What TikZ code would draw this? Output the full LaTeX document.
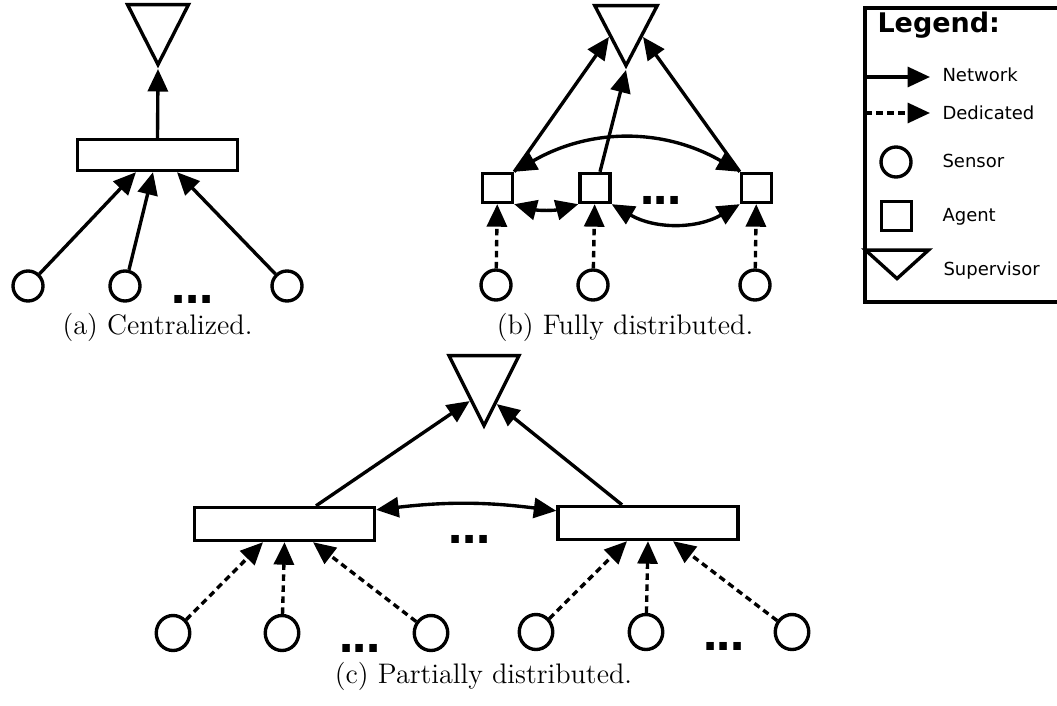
\documentclass[tikz,border=0pt]{standalone}
\usepackage{fontspec}
\setsansfont{DejaVu Sans}
\usetikzlibrary{shapes.geometric,arrows.meta,calc}

\tikzset{
  sensor/.style={draw, circle, line width=1.35pt, minimum size=12pt, inner sep=0pt},
  sensorc/.style={draw, ellipse, line width=1.35pt, minimum width=13.4pt, minimum height=14pt, inner sep=0pt},
  agent/.style={draw, rectangle, line width=1.35pt, minimum width=12pt, minimum height=11.6pt, inner sep=0pt},
  cluster/.style={draw, rectangle, line width=1.35pt, inner sep=0pt},
  supervisor/.style={draw, isosceles triangle, isosceles triangle stretches, shape border rotate=270,
    line width=1.35pt, inner sep=0pt, anchor=apex},
  net/.style={-{Triangle[length=9pt,width=8pt]}, line width=1.35pt},
  ded/.style={net, dash pattern=on 2.6pt off 1.8pt},
  twoway/.style={{Triangle[length=9pt,width=8pt]}-{Triangle[length=9pt,width=8pt]}, line width=1.35pt},
  etc/.style={font=\sffamily\bfseries\fontsize{17}{17}\selectfont, inner sep=0pt, anchor=base},
  caption/.style={font=\fontsize{11.3}{13}\selectfont, inner sep=0pt, anchor=base},
  legtext/.style={font=\sffamily\fontsize{7.2}{8}\selectfont, inner sep=0pt, anchor=base west},
  legtitle/.style={font=\sffamily\bfseries\fontsize{10.8}{12}\selectfont, inner sep=0pt, anchor=base west}
}
\newcommand{\etcdots}{.\kern-1pt.\kern-1pt.}

\begin{document}
\begin{tikzpicture}[x=0.4pt, y=-0.4pt]
    \useasboundingbox (0,0) rectangle (1057,705);

    % (a) centralized
    \draw(158,69) node[supervisor, minimum width=24.4pt, minimum height=24pt] (supa) {};
    \draw(157.5,155) node[cluster, minimum width=64pt, minimum height=12.4pt] (ra) {};
    \draw(28,286) node[sensor] (sa1) {};
    \draw(125,286) node[sensor] (sa2) {};
    \draw(287,286) node[sensor] (sa3) {};
    \draw(192.5,303) node[etc] (da) {\etcdots};
    \draw(157.5,334) node[caption] (capa) {(a) Centralized.};

    \draw[net] (ra.north) -- (supa.apex);
    \draw[net] (sa1) -- ($(ra.south)+(-21.5,0)$);
    \draw[net] (sa2) -- ($(ra.south)+(-4.5,0)$);
    \draw[net] (sa3) -- ($(ra.south)+(19.5,0)$);

    % (b) fully distributed
    \draw(626,70) node[supervisor, minimum width=25pt, minimum height=24pt] (supb) {};
    \draw(497.5,188) node[agent] (qb1) {};
    \draw(595,188) node[agent] (qb2) {};
    \draw(756.5,188) node[agent] (qb3) {};
    \draw(496,285) node[sensor] (sb1) {};
    \draw(593,285) node[sensor] (sb2) {};
    \draw(755,285) node[sensor] (sb3) {};
    \draw(661,205) node[etc] (db) {\etcdots};
    \draw(625,334) node[caption] (capb) {(b) Fully distributed.};

    \draw[net] (qb1.north east) -- ($(supb.apex)!0.5!(supb.right corner)$);
    \draw[net] ($(qb2.north)+(5,0)$) -- (supb.apex);
    \draw[net] (qb3.north west) -- ($(supb.apex)!0.5!(supb.left corner)$);
    \draw[twoway] (qb1.north east) to[bend left=30] (qb3.north west);
    \draw[twoway] (qb1.south east) to[bend right=15] (qb2.south west);
    \draw[twoway] (qb2.south east) to[bend right=30] (qb3.south west);
    \draw[ded] (sb1) -- (qb1);
    \draw[ded] (sb2) -- (qb2);
    \draw[ded] (sb3) -- (qb3);

    % (c) partially distributed
    \draw(484,430) node[supervisor, minimum width=28pt, minimum height=28pt] (supc) {};
    \draw(284.5,524) node[cluster, minimum width=72pt, minimum height=13.2pt] (rc1) {};
    \draw(648,523) node[cluster, minimum width=72pt, minimum height=13.2pt] (rc2) {};
    \draw(173,633) node[sensorc] (sc1) {};
    \draw(282,633) node[sensorc] (sc2) {};
    \draw(431,633) node[sensorc] (sc3) {};
    \draw(536,632) node[sensorc] (sc4) {};
    \draw(646,632) node[sensorc] (sc5) {};
    \draw(792,632) node[sensorc] (sc6) {};
    \draw(469.5,543) node[etc] (dc) {\etcdots};
    \draw(360,652) node[etc] (dc1) {\etcdots};
    \draw(724,650) node[etc] (dc2) {\etcdots};
    \draw(483.5,683) node[caption] (capc) {(c) Partially distributed.};

    \draw[net] ($(rc1.north)+(31.5,0)$) -- ($(supc.apex)!0.38!(supc.right corner)$);
    \draw[net] ($(rc2.north)+(-26,0)$) -- ($(supc.apex)!0.34!(supc.left corner)$);
    \draw[twoway] ($(rc1.north east)+(0,4)$) to[bend left=7] ($(rc2.north west)+(0,6)$);
    \draw[ded] (sc1) -- ($(rc1.south)+(-21.5,0)$);
    \draw[ded] (sc2) -- (rc1.south);
    \draw[ded] (sc3) -- ($(rc1.south)+(28.5,0)$);
    \draw[ded] (sc4) -- ($(rc2.south)+(-21,0)$);
    \draw[ded] (sc5) -- (rc2.south);
    \draw[ded] (sc6) -- ($(rc2.south)+(25,0)$);

    % legend
    \draw[line width=1.35pt] (1058,8) -- (865,8) -- (865,302) -- (1058,302);
    \draw(877,33) node[legtitle] (lt) {Legend:};
    \coordinate (ln0) at (865,77);
    \coordinate (ln1) at (930,77);
    \draw[net] (ln0) -- (ln1);
    \draw(942,82) node[legtext] (lnt) {Network};
    \coordinate (ld0) at (865,113);
    \coordinate (ld1) at (930,113);
    \draw[ded] (ld0) -- (ld1);
    \draw(942,120) node[legtext] (ldt) {Dedicated};
    \draw(896,162) node[sensor] (ls) {};
    \draw(942,168) node[legtext] (lst) {Sensor};
    \draw(896.5,216) node[agent] (la) {};
    \draw(942,222) node[legtext] (lat) {Agent};
    \draw(897,283) node[supervisor, minimum width=25.2pt, minimum height=11.4pt] (lsup) {};
    \draw(943,275) node[legtext] (lsupt) {Supervisor};

\end{tikzpicture}
\end{document}
